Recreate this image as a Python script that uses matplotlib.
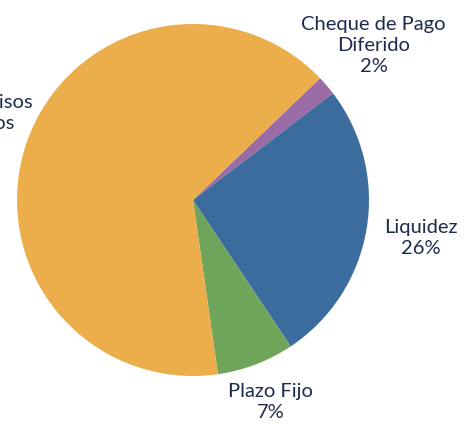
import numpy as np
import matplotlib
matplotlib.use('Agg')
import matplotlib.pyplot as plt

# portfolio composition (percent)
labels = ['Cheque de Pago\nDiferido', 'Liquidez', 'Plazo Fijo', 'Compromisos\nAsumidos']
values = [1.8, 26.0, 7.1, 65.1]
pct_text = ['2%', '26%', '7%', '65%']
colors = ['#9A6BA4', '#3C6B9E', '#6FA55A', '#EBAE4B']
label_dist = [1.35, 1.31, 1.23, 1.33]

fig = plt.figure(figsize=(4.76, 4.26), dpi=100)
ax = fig.add_axes([0, 0, 1, 1])

wedges, _ = ax.pie(values, colors=colors, startangle=43.8, counterclock=False,
                   radius=1.0, wedgeprops=dict(linewidth=0))

for w, lab, pct, d in zip(wedges, labels, pct_text, label_dist):
    mid = np.deg2rad((w.theta1 + w.theta2) / 2.0)
    ax.text(d * np.cos(mid), d * np.sin(mid), lab + '\n' + pct,
            ha='center', va='center', fontsize=14.5, color='#1F2A4E',
            family=['Lato', 'DejaVu Sans'], linespacing=1.3)

# pie centre sits at (193, 200) px, radius 176 px
ax.set_xlim(-193 / 176, 283 / 176)
ax.set_ylim(-226 / 176, 200 / 176)
ax.set_aspect('auto')
ax.axis('off')

fig.savefig('out.png', dpi=100)
